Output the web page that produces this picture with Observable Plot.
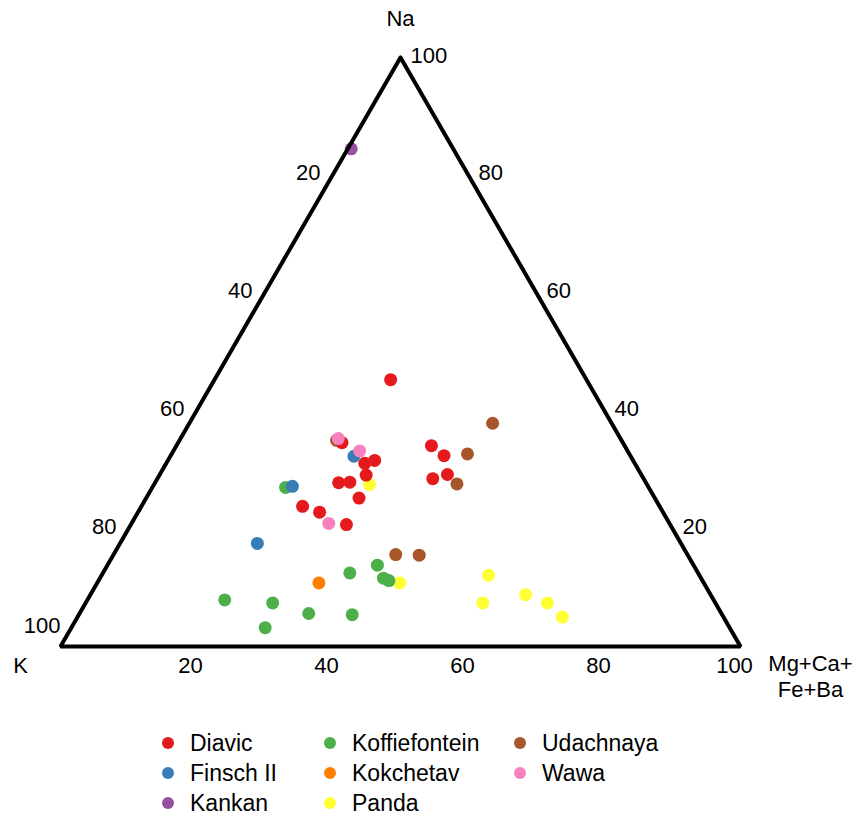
<!DOCTYPE html>
<html>
<head>
<meta charset="utf-8">
<script src="https://cdn.jsdelivr.net/npm/d3@7"></script>
<script src="https://cdn.jsdelivr.net/npm/@observablehq/plot@0.6"></script>
<style>
  body { margin: 0; background: #fff; font-family: "Liberation Sans", Arial, sans-serif; }
  #legend {
    display: grid;
    grid-template-columns: 162px 190px auto;
    grid-template-rows: 30px 30px 30px;
    grid-auto-flow: column;
    margin-left: 162px;
    padding-top: 8px;
    font-size: 23px;
    color: #000;
  }
  .item { display: flex; align-items: center; }
  .sw { width: 12px; height: 12px; border-radius: 50%; margin-right: 16px; flex: none; }
</style>
</head>
<body>
<div id="chart"></div>
<div id="legend"></div>
<script>
// Sites and colours
const sites = ["Diavic", "Finsch II", "Kankan", "Koffiefontein", "Kokchetav", "Panda", "Udachnaya", "Wawa"];
const siteColors = ["#E41A1C", "#377EB8", "#984EA3", "#4DAF4A", "#FF7F00", "#FFFF33", "#A65628", "#F781BF"];

// Compositions (percent). K = 100 - Na - (Mg+Ca+Fe+Ba)
const diavicNa = [45.3, 34.1, 32.4, 28.5, 29.2, 34.6, 31.1, 31.6, 29.1, 27.8, 27.9, 25.2, 23.8, 22.8, 20.7];
const diavicMg = [25.9, 37.5, 40.2, 40.5, 42.3, 24.1, 29.2, 30.4, 30.4, 27.0, 28.6, 31.3, 23.7, 26.7, 31.7];
const finschNa = [32.3, 27.2, 17.5];
const finschMg = [27.0, 20.5, 20.2];
const kankanNa = [84.5];
const kankanMg = [0.5];
const koffieNa = [27.0, 13.8, 12.5, 11.6, 11.2, 7.9, 7.4, 5.6, 5.4, 3.2];
const koffieMg = [19.6, 39.7, 36.3, 41.7, 42.7, 20.2, 27.5, 33.7, 40.2, 28.5];
const kokchetavNa = [10.8];
const kokchetavMg = [32.6];
const pandaNa = [27.5, 10.8, 12.1, 7.4, 8.8, 7.4, 5.0];
const pandaMg = [31.7, 44.5, 56.9, 58.4, 64.0, 67.9, 71.3];
const udachnayaNa = [37.9, 32.7, 27.6, 35.0, 15.6, 15.5];
const udachnayaMg = [44.6, 43.5, 44.5, 23.1, 41.5, 45.0];
const wawaNa = [35.3, 33.2, 20.9];
const wawaMg = [23.2, 27.4, 29.0];

// Axis ticks
const ticks = [20, 40, 60, 80, 100];

// Drawing order (later on top)
const groups = [
  ["Udachnaya", udachnayaNa, udachnayaMg],
  ["Panda", pandaNa, pandaMg],
  ["Koffiefontein", koffieNa, koffieMg],
  ["Finsch II", finschNa, finschMg],
  ["Diavic", diavicNa, diavicMg],
  ["Kokchetav", kokchetavNa, kokchetavMg],
  ["Kankan", kankanNa, kankanMg],
  ["Wawa", wawaNa, wawaMg]
];
const rows = [];
for (const [site, na, mg] of groups) {
  na.forEach((v, i) => rows.push({site, na: v, mg: mg[i], k: 100 - v - mg[i]}));
}

const SQ = Math.sqrt(3) / 2;
const tx = d => d.mg + d.na / 2;
const ty = d => d.na * SQ;

const corners = [{na: 100, mg: 0}, {na: 0, mg: 0}, {na: 0, mg: 100}, {na: 100, mg: 0}];
const leftTicks = ticks.map(t => ({na: 100 - t, mg: 0, t}));
const rightTicks = ticks.map(t => ({na: t, mg: 100 - t, t}));
const bottomTicks = ticks.map(t => ({na: 0, mg: t, t}));

const FONT = "Liberation Sans, Arial, sans-serif";

const chart = Plot.plot({
  width: 862,
  height: 720,
  marginLeft: 60,
  marginRight: 122,
  marginTop: 57,
  marginBottom: 74,
  x: {domain: [0, 100], axis: null},
  y: {domain: [0, 100 * SQ], axis: null},
  color: {domain: sites, range: siteColors},
  style: {fontFamily: FONT, fontSize: "22px", background: "#fff", overflow: "visible"},
  marks: [
    Plot.dot(rows, {x: tx, y: ty, fill: "site", r: 6.5, stroke: null}),
    Plot.line(corners, {x: tx, y: ty, stroke: "#000", strokeWidth: 4, strokeLinejoin: "miter"}),
    Plot.text(leftTicks.filter(d => d.t < 100), {x: tx, y: ty, text: d => String(d.t), textAnchor: "end", dx: -12, dy: -2, fontSize: 22, fill: "#000"}),
    Plot.text(leftTicks.filter(d => d.t === 100), {x: tx, y: ty, text: d => String(d.t), textAnchor: "end", dx: 0, dy: -21, fontSize: 22, fill: "#000"}),
    Plot.text(rightTicks, {x: tx, y: ty, text: d => String(d.t), textAnchor: "start", dx: 10, dy: -2, fontSize: 22, fill: "#000"}),
    Plot.text(bottomTicks, {x: tx, y: ty, text: d => String(d.t), textAnchor: "middle", dx: -6, dy: 19, fontSize: 22, fill: "#000"}),
    Plot.text([{na: 100, mg: 0, label: "Na"}], {x: tx, y: ty, text: "label", dy: -39, fontSize: 22, fill: "#000"}),
    Plot.text([{na: 0, mg: 0, label: "K"}], {x: tx, y: ty, text: "label", dx: -40, dy: 19, fontSize: 22, fill: "#000"}),
    Plot.text([{na: 0, mg: 100, label: "Mg+Ca+\nFe+Ba"}], {x: tx, y: ty, text: "label", dx: 70, dy: 29, lineHeight: 1.18, fontSize: 22, fill: "#000"})
  ]
});
document.getElementById("chart").appendChild(chart);

const legend = document.getElementById("legend");
sites.forEach((s, i) => {
  const item = document.createElement("div");
  item.className = "item";
  const sw = document.createElement("span");
  sw.className = "sw";
  sw.style.background = siteColors[i];
  const lab = document.createElement("span");
  lab.textContent = s;
  item.appendChild(sw);
  item.appendChild(lab);
  legend.appendChild(item);
});
</script>
</body>
</html>
